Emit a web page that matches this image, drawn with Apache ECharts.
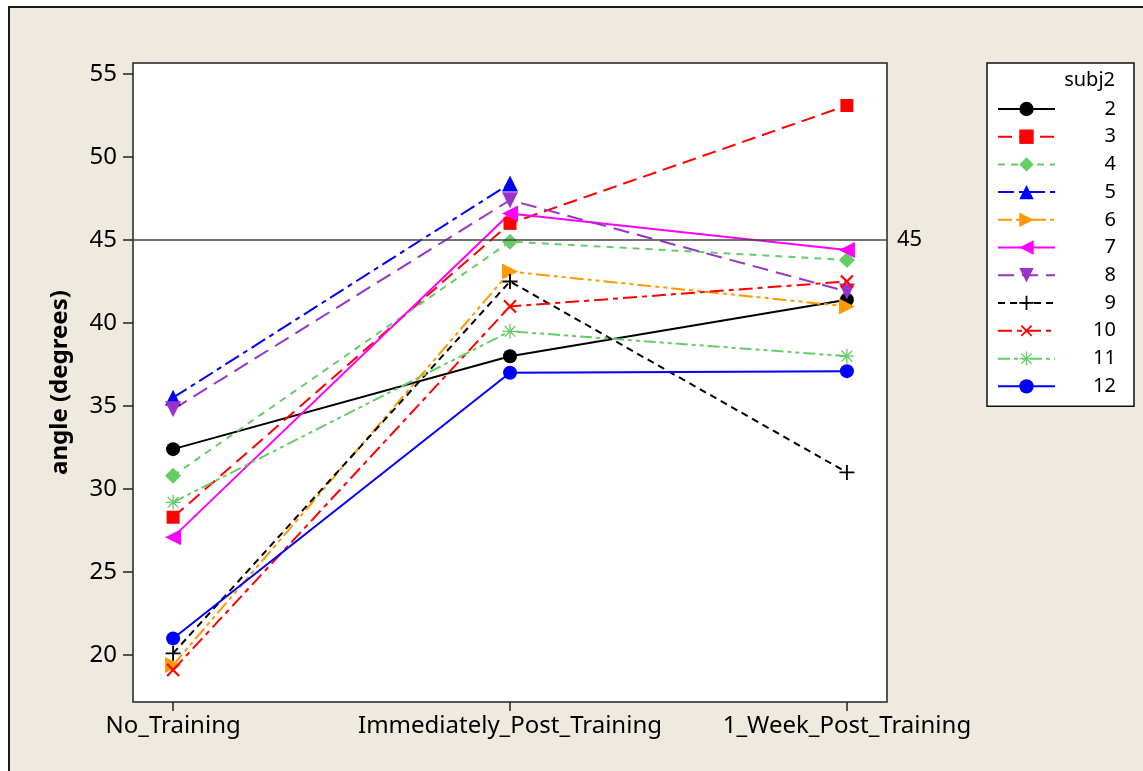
<!DOCTYPE html>
<html>
<head>
<meta charset="utf-8">
<script src="https://cdn.jsdelivr.net/npm/echarts@6/dist/echarts.min.js"></script>
<style>
  html, body { margin: 0; padding: 0; background: #fff; }
  .frame {
    position: absolute; left: 8px; top: 6px; width: 1200px; height: 800px;
    background: #EEEAE0; border: 2px solid #1a1a1a;
  }
  #chart { position: absolute; left: 0; top: 0; width: 1143px; height: 771px; }
</style>
</head>
<body>
<div class="frame"></div>
<div id="chart"></div>
<script>
const categories = ['No_Training', 'Immediately_Post_Training', '1_Week_Post_Training'];
const yTicks = [20, 25, 30, 35, 40, 45, 50, 55];
const refValue = 45;

const subj2  = [32.4, 38.0, 41.4];
const subj3  = [28.3, 46.0, 53.1];
const subj4  = [30.8, 44.9, 43.8];
const subj5  = [35.5, 48.4, null];
const subj6  = [19.4, 43.1, 41.0];
const subj7  = [27.1, 46.6, 44.4];
const subj8  = [34.8, 47.4, 41.9];
const subj9  = [20.1, 42.5, 31.0];
const subj10 = [19.1, 41.0, 42.5];
const subj11 = [29.2, 39.5, 38.0];
const subj12 = [21.0, 37.0, 37.1];

const FONT = 'Noto Sans';
const PLUS = 'path://M-1,-8L1,-8L1,-1L8,-1L8,1L1,1L1,8L-1,8L-1,1L-8,1L-8,-1L-1,-1Z';
const STAR = 'path://M-0.7,-8L0.7,-8L0.7,-1.7L5.2,-6.2L6.2,-5.2L1.7,-0.7L8,-0.7L8,0.7L1.7,0.7L6.2,5.2L5.2,6.2L0.7,1.7L0.7,8L-0.7,8L-0.7,1.7L-5.2,6.2L-6.2,5.2L-1.7,0.7L-8,0.7L-8,-0.7L-1.7,-0.7L-6.2,-5.2L-5.2,-6.2L-0.7,-1.7Z';

function mk(name, values, color, symbol, dash, rotate, size) {
  return {
    name: name,
    type: 'line',
    data: values.map((v, i) => [i, v]),
    symbol: symbol,
    symbolSize: size || 14,
    symbolRotate: rotate || 0,
    connectNulls: false,
    itemStyle: { color: color },
    lineStyle: { color: color, width: 2, type: dash },
  };
}

const series = [
  mk('2', subj2, '#000000', 'circle', 'solid'),
  mk('3', subj3, '#FF0000', 'rect', [14, 7], 0, 13),
  mk('4', subj4, '#66CC66', 'diamond', [7, 6], 0, 16),
  mk('5', subj5, '#0000FF', 'triangle', [16, 5, 5, 5], 0, 16),
  mk('6', subj6, '#FF9900', 'triangle', [14, 4, 4, 4, 4, 4], -90, 16),
  mk('7', subj7, '#FF00FF', 'triangle', 'solid', 90, 16),
  mk('8', subj8, '#9933CC', 'triangle', [16, 8], 180, 16),
  mk('9', subj9, '#000000', PLUS, [7, 5], 0, 15),
  mk('10', subj10, '#FF0000', PLUS, [14, 5, 5, 5], 45, 17),
  mk('11', subj11, '#66CC66', STAR, [12, 4, 4, 4, 4, 4], 0, 15),
  mk('12', subj12, '#0000FF', 'circle', 'solid'),
];

series[0].markLine = {
  silent: true,
  symbol: ['none', 'none'],
  lineStyle: { color: '#444', width: 1.5, type: 'solid' },
  label: {
    position: 'end', formatter: String(refValue), distance: 10,
    fontSize: 22, color: '#000', fontFamily: FONT,
  },
  data: [{ yAxis: refValue }],
};

const chart = echarts.init(document.getElementById('chart'));
chart.setOption({
  animation: false,
  backgroundColor: 'transparent',
  textStyle: { fontFamily: FONT },
  title: {
    text: 'subj2', right: 28, top: 70, padding: 0, z: 10,
    textStyle: { fontSize: 20, fontWeight: 'normal', color: '#000', fontFamily: FONT },
  },
  legend: {
    orient: 'vertical',
    left: 987, top: 63,
    padding: [36, 18, 10, 10],
    backgroundColor: '#fff',
    borderColor: '#111',
    borderWidth: 1.5,
    itemWidth: 57,
    itemHeight: 18,
    itemGap: 7.7,
    itemTextGap: 5,
    formatter: name => '{n|' + name + '}',
    textStyle: {
      rich: { n: { width: 56, align: 'right', fontSize: 20, lineHeight: 20, color: '#000', fontFamily: FONT } },
    },
    data: series.map(s => s.name),
  },
  grid: {
    left: 133, top: 63, right: 256, bottom: 69,
    show: true, backgroundColor: '#fff', borderColor: '#222', borderWidth: 1.5,
  },
  xAxis: {
    type: 'value',
    min: -0.119, max: 2.119,
    axisLine: { show: false, onZero: false },
    splitLine: { show: false },
    axisTick: { customValues: [0, 1, 2], length: 9, lineStyle: { color: '#222', width: 1.5 } },
    axisLabel: {
      customValues: [0, 1, 2], formatter: v => categories[Math.round(v)],
      fontSize: 24, color: '#000', margin: 12, fontFamily: FONT,
    },
  },
  yAxis: {
    type: 'value',
    min: 17.17, max: 55.66,
    name: 'angle (degrees)',
    nameLocation: 'middle',
    nameGap: 61,
    nameTextStyle: { fontSize: 24, fontWeight: 'bold', color: '#000', fontFamily: FONT },
    axisLine: { show: false, onZero: false },
    splitLine: { show: false },
    axisTick: { customValues: yTicks, length: 10, lineStyle: { color: '#222', width: 1.5 } },
    axisLabel: { customValues: yTicks, fontSize: 24, color: '#000', margin: 16, fontFamily: FONT },
  },
  series: series,
});
</script>
</body>
</html>
